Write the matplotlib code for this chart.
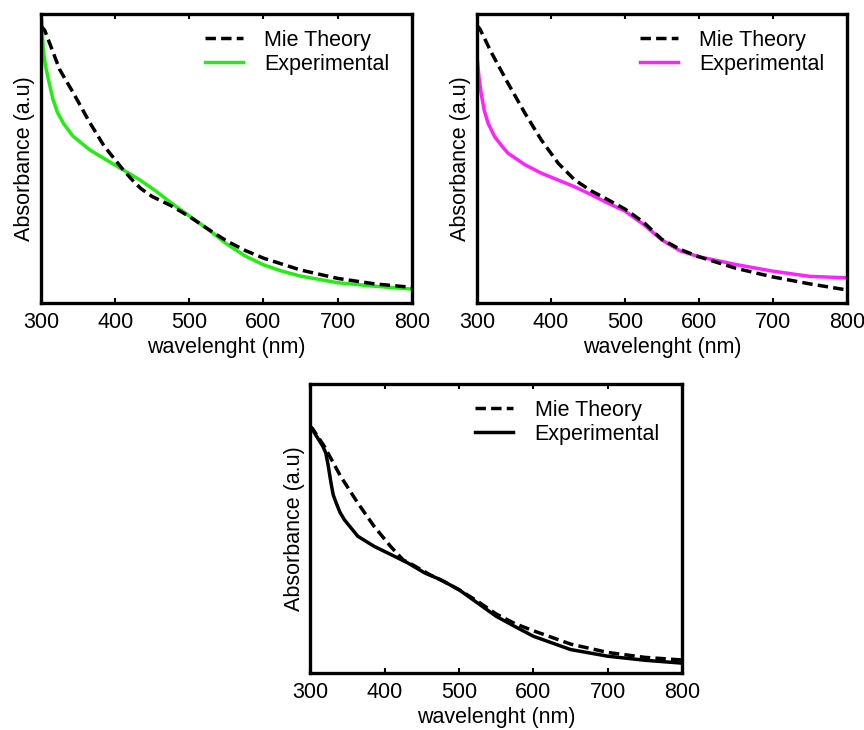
import matplotlib
matplotlib.use("Agg")
import matplotlib.pyplot as plt

plt.rcParams['font.family'] = ['Liberation Sans', 'DejaVu Sans']

# panel 1 (green)
mie1_x = [300, 305, 325, 345, 365, 385, 400, 410, 425, 435, 450, 475, 500, 525, 550,
          575, 600, 650, 700, 750, 800]
mie1_y = [0.958, 0.943, 0.808, 0.720, 0.627, 0.543, 0.495, 0.463, 0.420, 0.395, 0.368,
          0.337, 0.299, 0.256, 0.215, 0.182, 0.155, 0.114, 0.085, 0.066, 0.054]
exp1_x = [300, 301, 303, 306, 310, 316, 322, 330, 343, 366, 388, 411, 433, 456, 475,
          500, 525, 550, 575, 600, 625, 650, 700, 750, 800]
exp1_y = [0.995, 0.975, 0.875, 0.820, 0.772, 0.705, 0.660, 0.622, 0.577, 0.529, 0.495,
          0.460, 0.426, 0.385, 0.347, 0.301, 0.255, 0.205, 0.163, 0.132, 0.110, 0.093,
          0.070, 0.058, 0.048]

# panel 2 (magenta)
mie2_x = [300, 304, 320, 342, 365, 387, 410, 432, 455, 475, 500, 525, 550, 575, 600,
          650, 700, 750, 800]
mie2_y = [0.960, 0.948, 0.864, 0.760, 0.656, 0.564, 0.483, 0.426, 0.387, 0.360, 0.325,
          0.280, 0.220, 0.185, 0.160, 0.120, 0.090, 0.066, 0.045]
exp2_x = [300, 301, 303, 306, 310, 315, 324, 333, 342, 365, 387, 410, 432, 455, 475,
          500, 525, 550, 575, 600, 650, 700, 750, 800]
exp2_y = [0.855, 0.830, 0.775, 0.720, 0.665, 0.622, 0.575, 0.545, 0.518, 0.478, 0.449,
          0.425, 0.402, 0.374, 0.348, 0.318, 0.272, 0.218, 0.180, 0.160, 0.133, 0.110,
          0.092, 0.087]

# panel 3 (black)
mie3_x = [300, 303, 319, 341, 364, 386, 408, 425, 440, 460, 480, 500, 525, 550, 575,
          600, 650, 700, 750, 800]
mie3_y = [0.852, 0.845, 0.783, 0.679, 0.587, 0.506, 0.437, 0.390, 0.370, 0.340, 0.315,
          0.287, 0.247, 0.203, 0.170, 0.145, 0.099, 0.070, 0.053, 0.044]
exp3_x = [300, 303, 317, 321, 324, 328, 331, 335, 340, 346, 364, 386, 409, 431, 454,
          475, 500, 525, 550, 575, 600, 650, 700, 750, 800]
exp3_y = [0.852, 0.841, 0.783, 0.760, 0.720, 0.656, 0.615, 0.587, 0.555, 0.529, 0.472,
          0.437, 0.408, 0.380, 0.345, 0.322, 0.287, 0.241, 0.195, 0.160, 0.126, 0.080,
          0.057, 0.043, 0.033]

xticks = [300, 400, 500, 600, 700, 800]

panels = [
    ([0.0475, 0.585, 0.429, 0.396], mie1_x, mie1_y, exp1_x, exp1_y, '#22ee11'),
    ([0.552, 0.585, 0.428, 0.396], mie2_x, mie2_y, exp2_x, exp2_y, '#ff22ff'),
    ([0.359, 0.0785, 0.4306, 0.396], mie3_x, mie3_y, exp3_x, exp3_y, 'black'),
]

fig = plt.figure(figsize=(8.64, 7.3), dpi=100)

for rect, mx, my, ex, ey, col in panels:
    ax = fig.add_axes(rect)
    ax.plot(mx, my, color='black', linestyle=(0, (3, 1.5)), linewidth=2.5,
            label='Mie Theory', zorder=3)
    ax.plot(ex, ey, color=col, linewidth=2.5, label='Experimental', zorder=2,
            solid_joinstyle='round')
    ax.set_xlim(300, 800)
    ax.set_ylim(0, 1)
    ax.set_xticks(xticks)
    ax.set_yticks([])
    ax.tick_params(axis='x', direction='in', top=True, length=3.5, width=1.5,
                   labelsize=15.5, pad=6.5)
    for s in ax.spines.values():
        s.set_linewidth(2.4)
    ax.set_xlabel('wavelenght (nm)', fontsize=15.5, labelpad=3)
    ax.set_ylabel('Absorbance (a.u)', fontsize=15.5, labelpad=4)
    ax.legend(loc='upper right', frameon=False, fontsize=15.5, handlelength=1.75,
              handletextpad=1.0, labelspacing=0.15, borderaxespad=0, borderpad=0,
              bbox_to_anchor=(0.94, 0.945))

fig.savefig('out.png', dpi=100)
